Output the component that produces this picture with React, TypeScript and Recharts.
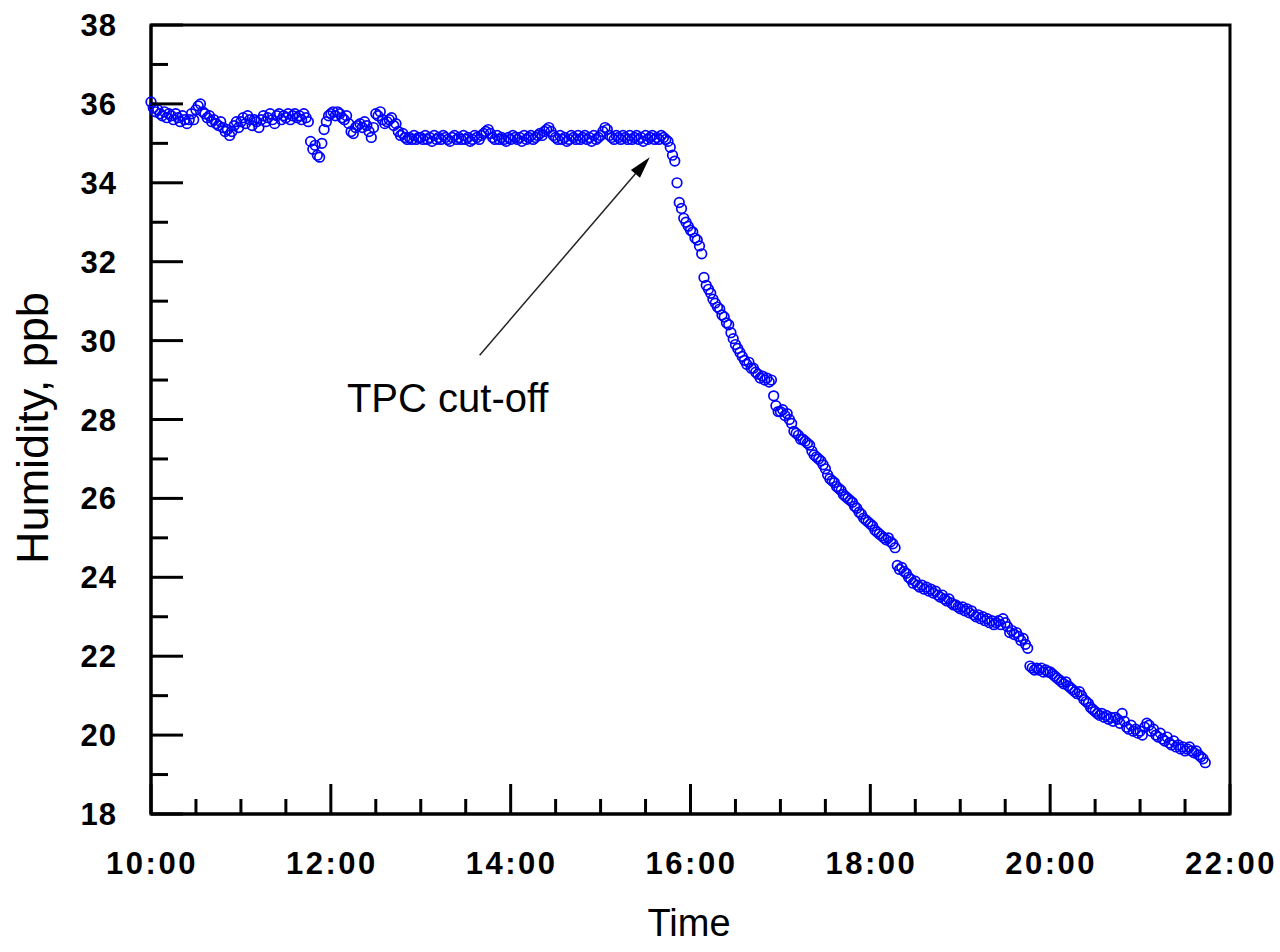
import { ScatterChart, Scatter, XAxis, YAxis, ReferenceArea, ReferenceLine, ReferenceDot } from 'recharts'

// humidity readings every 1.5 minutes, one array per hour
const h10 = [36.05, 35.9, 35.8, 35.85, 35.75, 35.7, 35.8, 35.65, 35.75, 35.7, 35.6, 35.75, 35.65, 35.55, 35.7, 35.6, 35.5, 35.6, 35.75, 35.6, 35.85, 35.95, 36.0, 35.8, 35.75, 35.65, 35.7, 35.55, 35.6, 35.5, 35.45, 35.55, 35.4, 35.3, 35.35, 35.2, 35.3, 35.45, 35.55, 35.4]
const h11 = [35.55, 35.65, 35.5, 35.7, 35.6, 35.45, 35.6, 35.55, 35.4, 35.6, 35.7, 35.55, 35.65, 35.75, 35.6, 35.5, 35.7, 35.75, 35.6, 35.7, 35.65, 35.75, 35.6, 35.7, 35.75, 35.65, 35.7, 35.6, 35.75, 35.65, 35.55, 35.05, 34.85, 34.95, 34.7, 34.65, 35.0, 35.35, 35.55, 35.7]
const h12 = [35.75, 35.8, 35.7, 35.8, 35.75, 35.65, 35.6, 35.7, 35.5, 35.3, 35.25, 35.4, 35.45, 35.5, 35.4, 35.55, 35.45, 35.3, 35.15, 35.4, 35.75, 35.7, 35.8, 35.6, 35.5, 35.55, 35.6, 35.65, 35.45, 35.5, 35.3, 35.2, 35.25, 35.15, 35.1, 35.15, 35.1, 35.2, 35.1, 35.15]
const h13 = [35.15, 35.1, 35.2, 35.1, 35.15, 35.05, 35.2, 35.1, 35.15, 35.1, 35.2, 35.15, 35.1, 35.05, 35.15, 35.2, 35.1, 35.15, 35.1, 35.2, 35.1, 35.15, 35.05, 35.1, 35.2, 35.15, 35.1, 35.2, 35.25, 35.3, 35.35, 35.25, 35.15, 35.1, 35.2, 35.1, 35.15, 35.1, 35.05, 35.15]
const h14 = [35.1, 35.2, 35.15, 35.1, 35.15, 35.05, 35.2, 35.1, 35.15, 35.2, 35.1, 35.15, 35.2, 35.25, 35.2, 35.3, 35.35, 35.4, 35.3, 35.2, 35.15, 35.1, 35.2, 35.1, 35.15, 35.05, 35.1, 35.2, 35.15, 35.1, 35.2, 35.1, 35.15, 35.2, 35.1, 35.15, 35.05, 35.2, 35.1, 35.15]
const h15 = [35.2, 35.3, 35.4, 35.35, 35.2, 35.15, 35.1, 35.2, 35.15, 35.1, 35.2, 35.15, 35.1, 35.2, 35.1, 35.15, 35.2, 35.1, 35.15, 35.05, 35.2, 35.1, 35.15, 35.2, 35.1, 35.15, 35.1, 35.2, 35.15, 35.1, 35.05, 34.9, 34.7, 34.55, 34.0, 33.5, 33.35, 33.1, 33.0, 32.9]
const h16 = [32.8, 32.75, 32.6, 32.55, 32.4, 32.2, 31.6, 31.4, 31.3, 31.2, 31.05, 30.95, 30.85, 30.8, 30.65, 30.6, 30.45, 30.4, 30.2, 30.05, 29.9, 29.8, 29.7, 29.6, 29.5, 29.4, 29.45, 29.3, 29.3, 29.2, 29.15, 29.05, 29.1, 29.0, 29.05, 28.95, 29.0, 28.6, 28.35, 28.2]
const h17 = [28.2, 28.25, 28.1, 28.15, 28.0, 27.9, 27.7, 27.65, 27.6, 27.5, 27.5, 27.45, 27.4, 27.35, 27.2, 27.1, 27.05, 27.0, 26.95, 26.85, 26.75, 26.6, 26.5, 26.45, 26.4, 26.3, 26.25, 26.2, 26.1, 26.05, 26.0, 25.95, 25.9, 25.8, 25.75, 25.65, 25.6, 25.5, 25.45, 25.4]
const h18 = [25.35, 25.3, 25.2, 25.15, 25.1, 25.05, 25.0, 24.95, 25.0, 24.9, 24.85, 24.75, 24.3, 24.2, 24.25, 24.15, 24.1, 24.0, 23.95, 23.85, 23.9, 23.8, 23.75, 23.8, 23.7, 23.75, 23.65, 23.7, 23.6, 23.65, 23.55, 23.5, 23.55, 23.45, 23.4, 23.45, 23.35, 23.3, 23.3, 23.25]
const h19 = [23.2, 23.25, 23.15, 23.2, 23.1, 23.15, 23.05, 23.0, 23.05, 22.95, 23.0, 22.9, 22.95, 22.85, 22.9, 22.8, 22.85, 22.9, 22.8, 22.95, 22.85, 22.75, 22.6, 22.65, 22.55, 22.6, 22.5, 22.4, 22.45, 22.3, 22.2, 21.75, 21.7, 21.65, 21.7, 21.65, 21.7, 21.6, 21.65, 21.6]
const h20 = [21.6, 21.55, 21.5, 21.45, 21.4, 21.35, 21.3, 21.35, 21.25, 21.2, 21.15, 21.1, 21.05, 21.1, 21.0, 20.9, 20.85, 20.8, 20.7, 20.65, 20.6, 20.55, 20.5, 20.55, 20.45, 20.5, 20.4, 20.45, 20.35, 20.45, 20.4, 20.3, 20.55, 20.35, 20.2, 20.15, 20.25, 20.1, 20.15, 20.05]
const h21 = [20.1, 20.0, 20.2, 20.3, 20.25, 20.1, 20.15, 20.0, 19.95, 20.05, 19.9, 19.85, 19.95, 19.8, 19.75, 19.85, 19.7, 19.75, 19.65, 19.7, 19.6, 19.65, 19.7, 19.6, 19.55, 19.6, 19.5, 19.45, 19.4, 19.3]

const hours = [10, 11, 12, 13, 14, 15, 16, 17, 18, 19, 20, 21]
const hourly = [h10, h11, h12, h13, h14, h15, h16, h17, h18, h19, h20, h21]
const step = 0.025 // hours between readings

const xTicks = [10, 10.5, 11, 11.5, 12, 12.5, 13, 13.5, 14, 14.5, 15, 15.5, 16, 16.5, 17, 17.5, 18, 18.5, 19, 19.5, 20, 20.5, 21, 21.5, 22]
const yTicks = [18, 19, 20, 21, 22, 23, 24, 25, 26, 27, 28, 29, 30, 31, 32, 33, 34, 35, 36, 37, 38]

// annotation anchors (time in hours, humidity)
const arrowTail = { x: 13.655, y: 29.63 }
const arrowHead = { x: 15.547, y: 34.65 }
const noteAt = { x: 13.3, y: 28.2 }

const points = hourly.flatMap((vals, i) => vals.map((v, j) => ({ t: hours[i] + j * step, v })))

const font = '"Liberation Sans", Arial, sans-serif'

const XTick = (props: any) => {
  const { x, y, payload } = props
  const major = payload.value % 2 === 0
  return (
    <g>
      <line x1={x} x2={x} y1={y} y2={y - (major ? 30 : 15)} stroke="#000" strokeWidth={3} />
      {major && (
        <text x={x + 1} y={y + 60} textAnchor="middle" fontFamily={font} fontWeight="bold" fontSize={31} letterSpacing={2.5} fill="#000">
          {`${payload.value}:00`}
        </text>
      )}
    </g>
  )
}

const YTick = (props: any) => {
  const { x, y, payload } = props
  const major = payload.value % 2 === 0
  return (
    <g>
      <line x1={x} x2={x + (major ? 32 : 17)} y1={y} y2={y} stroke="#000" strokeWidth={3} />
      {major && (
        <text x={x - 34} y={y + 11} textAnchor="end" fontFamily={font} fontWeight="bold" fontSize={31} letterSpacing={1} fill="#000">
          {payload.value}
        </text>
      )}
    </g>
  )
}

const Arrow = (props: any) => {
  const { x1, y1, x2, y2 } = props
  const ang = Math.atan2(y2 - y1, x2 - x1)
  const len = 22
  const w = 6
  const bx = x2 - len * Math.cos(ang)
  const by = y2 - len * Math.sin(ang)
  const px = -Math.sin(ang) * w
  const py = Math.cos(ang) * w
  return (
    <g>
      <line x1={x1} y1={y1} x2={bx} y2={by} stroke="#222" strokeWidth={1.5} />
      <polygon points={`${x2},${y2} ${bx + px},${by + py} ${bx - px},${by - py}`} fill="#000" />
    </g>
  )
}

const Note = (props: any) => (
  <text x={props.cx} y={props.cy} textAnchor="middle" fontFamily={font} fontSize={40} fill="#000">
    TPC cut-off
  </text>
)

export default function App() {
  return (
    <div style={{ position: 'absolute', left: 0, top: 0, width: 1280, height: 952, background: '#fff' }}>
      <ScatterChart width={1280} height={952} margin={{ top: 25, right: 50, bottom: 137, left: 150 }}>
        <XAxis
          type="number"
          dataKey="t"
          domain={[10, 22]}
          ticks={xTicks}
          interval={0}
          height={1}
          tickSize={0}
          tickMargin={0}
          tickLine={false}
          axisLine={{ stroke: '#000', strokeWidth: 3 }}
          tick={<XTick />}
        />
        <YAxis
          type="number"
          dataKey="v"
          domain={[18, 38]}
          ticks={yTicks}
          interval={0}
          width={1}
          tickSize={0}
          tickMargin={0}
          tickLine={false}
          axisLine={{ stroke: '#000', strokeWidth: 3 }}
          tick={<YTick />}
        />
        <ReferenceArea x1={10} x2={22} y1={18} y2={38} fill="none" stroke="#000" strokeWidth={3} fillOpacity={0} />
        <Scatter
          data={points}
          isAnimationActive={false}
          shape={(p: any) => <circle cx={p.cx} cy={p.cy} r={4.8} fill="none" stroke="#0000ff" strokeWidth={1.7} />}
        />
        <ReferenceLine segment={[arrowTail, arrowHead]} shape={<Arrow />} />
        <ReferenceDot x={noteAt.x} y={noteAt.y} r={0} shape={<Note />} />
      </ScatterChart>
      <div
        style={{ position: 'absolute', left: 689, top: 942, transform: 'translate(-50%, -100%)', fontFamily: font, fontSize: 38, lineHeight: 1, whiteSpace: 'nowrap' }}
      >
        Time
      </div>
      <div
        style={{ position: 'absolute', left: 32, top: 428, transform: 'translate(-50%, -50%) rotate(-90deg)', fontFamily: font, fontSize: 45, lineHeight: 1, whiteSpace: 'nowrap' }}
      >
        Humidity, ppb
      </div>
    </div>
  )
}
